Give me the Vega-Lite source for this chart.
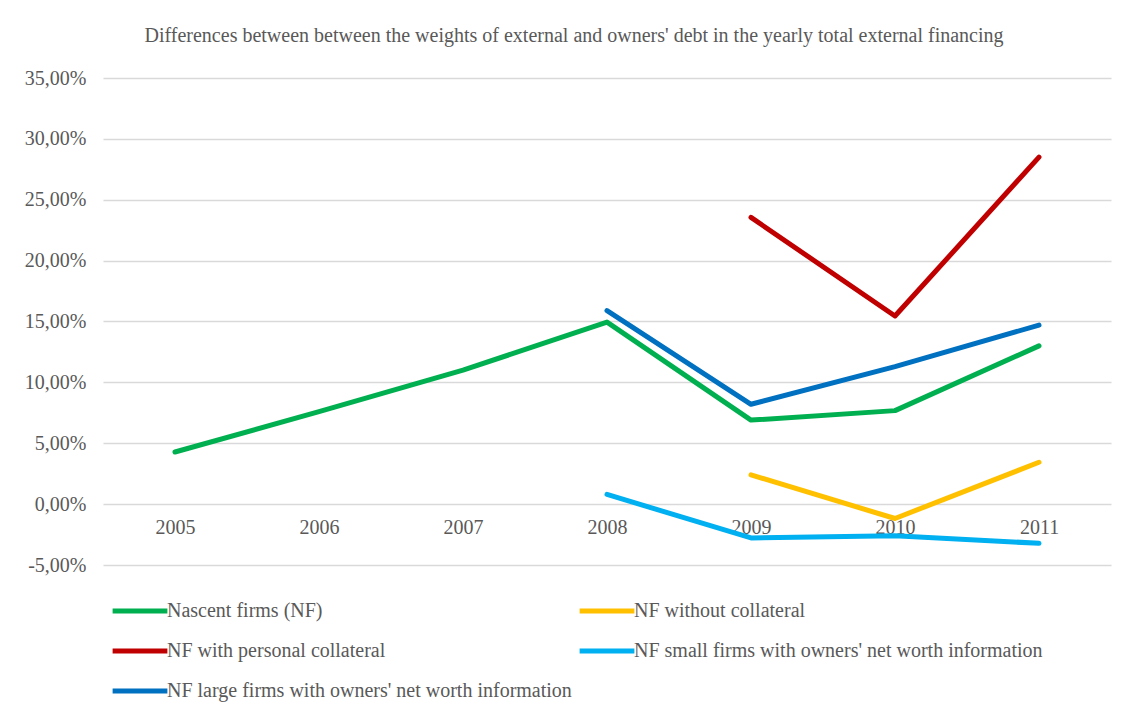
{
  "$schema": "https://vega.github.io/schema/vega-lite/v6.json",
  "width": 1008,
  "height": 487,
  "autosize": "none",
  "padding": {"left": 103, "top": 78, "right": 22, "bottom": 148},
  "background": "white",
  "title": {
    "text": "Differences between between the weights of external and owners' debt in the yearly total external financing",
    "font": "Liberation Serif",
    "fontSize": 20,
    "fontWeight": "normal",
    "color": "#595959",
    "anchor": "middle",
    "dx": -33,
    "offset": 22
  },
  "data": {
    "values": [
      {"series": "Nascent firms (NF)", "year": "2005", "value": 0.0428},
      {"series": "Nascent firms (NF)", "year": "2006", "value": 0.0760},
      {"series": "Nascent firms (NF)", "year": "2007", "value": 0.1100},
      {"series": "Nascent firms (NF)", "year": "2008", "value": 0.1495},
      {"series": "Nascent firms (NF)", "year": "2009", "value": 0.0690},
      {"series": "Nascent firms (NF)", "year": "2010", "value": 0.0768},
      {"series": "Nascent firms (NF)", "year": "2011", "value": 0.1300},
      {"series": "NF without collateral", "year": "2009", "value": 0.0240},
      {"series": "NF without collateral", "year": "2010", "value": -0.0118},
      {"series": "NF without collateral", "year": "2011", "value": 0.0344},
      {"series": "NF with personal collateral", "year": "2009", "value": 0.2355},
      {"series": "NF with personal collateral", "year": "2010", "value": 0.1545},
      {"series": "NF with personal collateral", "year": "2011", "value": 0.2850},
      {"series": "NF small firms with owners' net worth information", "year": "2008", "value": 0.0080},
      {"series": "NF small firms with owners' net worth information", "year": "2009", "value": -0.0278},
      {"series": "NF small firms with owners' net worth information", "year": "2010", "value": -0.0260},
      {"series": "NF small firms with owners' net worth information", "year": "2011", "value": -0.0322},
      {"series": "NF large firms with owners' net worth information", "year": "2008", "value": 0.1590},
      {"series": "NF large firms with owners' net worth information", "year": "2009", "value": 0.0820},
      {"series": "NF large firms with owners' net worth information", "year": "2010", "value": 0.1130},
      {"series": "NF large firms with owners' net worth information", "year": "2011", "value": 0.1470}
    ]
  },
  "mark": {"type": "line", "strokeWidth": 5, "strokeCap": "round", "strokeJoin": "round"},
  "encoding": {
    "x": {
      "field": "year",
      "type": "ordinal",
      "scale": {"type": "point", "padding": 0.5},
      "axis": {
        "title": null,
        "offset": -61,
        "domain": false,
        "ticks": false,
        "grid": false,
        "labelAngle": 0,
        "labelPadding": 13,
        "labelFont": "Liberation Serif",
        "labelFontSize": 20,
        "labelColor": "#595959"
      }
    },
    "y": {
      "field": "value",
      "type": "quantitative",
      "scale": {"domain": [-0.05, 0.35], "nice": false, "zero": false},
      "axis": {
        "title": null,
        "values": [-0.05, 0, 0.05, 0.1, 0.15, 0.2, 0.25, 0.3, 0.35],
        "labelExpr": "replace(replace(format(datum.value, '.2%'), '.', ','), '\u2212', '-')",
        "domain": false,
        "ticks": false,
        "grid": true,
        "gridColor": "#d9d9d9",
        "gridWidth": 1.5,
        "labelPadding": 17,
        "labelFont": "Liberation Serif",
        "labelFontSize": 20,
        "labelColor": "#595959"
      }
    },
    "color": {
      "field": "series",
      "type": "nominal",
      "scale": {
        "domain": [
          "Nascent firms (NF)",
          "NF without collateral",
          "NF with personal collateral",
          "NF small firms with owners' net worth information",
          "NF large firms with owners' net worth information"
        ],
        "range": ["#00B050", "#FFC000", "#C00000", "#00B0F0", "#0070C0"]
      },
      "legend": {
        "title": null,
        "orient": "none",
        "direction": "horizontal",
        "legendX": 7,
        "legendY": 503,
        "columns": 2,
        "symbolType": "stroke",
        "symbolStrokeWidth": 5,
        "symbolSize": 3000,
        "labelFont": "Liberation Serif",
        "labelFontSize": 20,
        "labelColor": "#595959",
        "labelOffset": -3,
        "labelLimit": 700,
        "rowPadding": -12,
        "columnPadding": -3
      }
    }
  },
  "config": {"view": {"stroke": null}}
}
